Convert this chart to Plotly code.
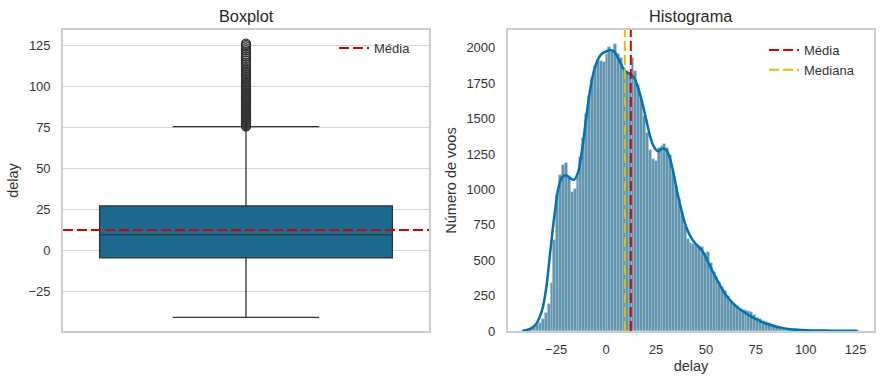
import plotly.graph_objects as go

# ---------------- data ----------------
# Boxplot statistics of "delay"
q1_delay = -4.7
median_delay = 9.4
q3_delay = 27.0
lower_whisker = -40.9
upper_whisker = 75.4
mean_delay = 12.4

# Outliers above the upper whisker (dense column of points)
outliers = [75.6, 76.2, 76.9, 77.5, 78.1, 78.8, 79.4, 80.0, 80.7, 81.3, 82.0, 82.6,
            83.3, 84.0, 84.6, 85.3, 86.0, 86.7, 87.4, 88.1, 88.8, 89.5, 90.2, 91.0,
            91.7, 92.4, 93.2, 94.0, 94.8, 95.5, 96.3, 97.1, 98.0, 98.8, 99.6, 100.5,
            101.4, 102.3, 103.2, 104.1, 105.0, 106.0, 107.0, 108.0, 109.0, 110.0,
            111.1, 112.2, 113.3, 114.5, 115.7, 117.0, 118.3, 119.5, 120.8, 122.0,
            123.2, 124.3, 125.2, 126.0]

# Histogram (bin start, bin width, counts per bin)
bin_start = -41.0
bin_width = 1.45
counts = [3, 8, 15, 25, 40, 60, 85, 125, 190, 340,
          640, 960, 1100, 1170, 1185, 1095, 985, 1000, 1085, 1230,
          1360, 1530, 1660, 1790, 1870, 1915, 1910, 1900, 1960, 2005,
          1985, 2025, 1960, 1930, 1850, 1840, 1820, 1925, 1840, 1740,
          1640, 1520, 1400, 1280, 1215, 1200, 1290, 1305, 1320, 1290,
          1245, 1120, 1020, 930, 840, 740, 650, 625, 615, 610,
          600, 590, 550, 560, 480, 420, 380, 345, 310, 280,
          245, 205, 190, 175, 155, 150, 145, 140, 132, 110,
          95, 82, 72, 62, 55, 48, 40, 34, 29, 24,
          20, 16, 13, 11, 9, 8, 7, 6, 5, 5,
          4, 4, 3, 3, 3, 3, 2, 2, 2, 2,
          2, 2, 1, 1, 1, 1]

# KDE curve (in count units)
kde_x = [-42, -38, -35, -32, -30, -28, -26, -24, -22, -20, -18, -16, -14, -12, -10,
         -8, -6, -4, -2, 0, 2, 4, 6, 8, 10, 12, 14, 16, 18, 20, 22, 24, 26, 28, 30,
         32, 34, 36, 38, 40, 42, 44, 46, 48, 50, 52, 54, 56, 58, 60, 62, 64, 66, 68,
         70, 72, 74, 76, 78, 80, 84, 88, 92, 96, 100, 110, 120, 126]
kde_y = [0, 15, 50, 150, 300, 550, 800, 1000, 1085, 1100, 1080, 1068, 1120, 1280, 1500,
         1700, 1840, 1920, 1960, 1975, 1985, 1975, 1930, 1870, 1830, 1815, 1790, 1720,
         1620, 1500, 1380, 1300, 1270, 1288, 1280, 1220, 1100, 960, 840, 740, 675, 630,
         600, 570, 520, 460, 405, 350, 300, 255, 220, 190, 165, 145, 125, 108, 92, 78,
         65, 53, 35, 22, 13, 8, 5, 3, 2, 1]

delay_ticks = [-25, 0, 25, 50, 75, 100, 125]
count_ticks = [0, 250, 500, 750, 1000, 1250, 1500, 1750, 2000]

# ---------------- styling ----------------
FONT = "Liberation Sans, Arial, sans-serif"
TXT = "#333333"
BORDER = "#cccccc"
BOX_FILL = "#1b6a90"
BOX_LINE = "#333333"
BAR_FILL = "#5f95b0"
KDE_COLOR = "#0173b2"
RED = "#d20000"
YELLOW = "#dcc000"
DASH = "10px,4px"


def fmt(v):
    return ("\u2212" + str(abs(v))) if v < 0 else str(v)


bin_centers = [bin_start + bin_width * (i + 0.5) for i in range(len(counts))]
all_vals = [lower_whisker] + outliers
span = max(all_vals) - min(all_vals)
val_range = [min(all_vals) - 0.05 * span, max(all_vals) + 0.05 * span]
count_top = max(counts) * 1.05

fig = go.Figure()

# ---- left: boxplot ----
fig.add_trace(go.Box(
    x=[0], q1=[q1_delay], median=[median_delay], q3=[q3_delay],
    lowerfence=[lower_whisker], upperfence=[upper_whisker],
    width=0.8, whiskerwidth=0.5, boxpoints=False,
    fillcolor=BOX_FILL, line=dict(color=BOX_LINE, width=1.3),
    showlegend=False, xaxis="x", yaxis="y", hoverinfo="skip"))
fig.add_trace(go.Scatter(
    x=[0] * len(outliers), y=outliers, mode="markers",
    marker=dict(symbol="circle-open", size=9, color=BOX_LINE, line=dict(width=1.3)),
    showlegend=False, xaxis="x", yaxis="y", hoverinfo="skip"))
fig.add_trace(go.Scatter(
    x=[-0.5, 0.5], y=[mean_delay, mean_delay], mode="lines",
    line=dict(color=RED, width=2, dash=DASH), name="Média",
    legend="legend", xaxis="x", yaxis="y"))

# ---- right: histogram ----
fig.add_trace(go.Bar(
    x=bin_centers, y=counts, width=bin_width,
    marker=dict(color=BAR_FILL, line=dict(color="rgba(175,195,205,0.9)", width=0.5)),
    showlegend=False, xaxis="x2", yaxis="y2", hoverinfo="skip"))
fig.add_trace(go.Scatter(
    x=kde_x, y=kde_y, mode="lines", line=dict(color=KDE_COLOR, width=2.5, shape="spline"),
    showlegend=False, xaxis="x2", yaxis="y2", hoverinfo="skip"))
fig.add_trace(go.Scatter(
    x=[mean_delay, mean_delay], y=[0, count_top], mode="lines",
    line=dict(color=RED, width=2, dash=DASH), name="Média",
    legend="legend2", xaxis="x2", yaxis="y2"))
fig.add_trace(go.Scatter(
    x=[median_delay, median_delay], y=[0, count_top], mode="lines",
    line=dict(color=YELLOW, width=2, dash=DASH), name="Mediana",
    legend="legend2", xaxis="x2", yaxis="y2"))

ydom = [53 / 384, 354 / 384]
axis_common = dict(showline=True, mirror=True, linecolor=BORDER, linewidth=1.6,
                   zeroline=False, ticks="", automargin=False,
                   tickfont=dict(size=13, color=TXT, family=FONT))

fig.update_layout(
    width=884, height=384,
    margin=dict(l=0, r=0, t=0, b=0, autoexpand=False),
    paper_bgcolor="white", plot_bgcolor="white",
    font=dict(family=FONT, color=TXT, size=13),
    bargap=0,
    xaxis=dict(domain=[63 / 884, 429 / 884], range=[-0.5, 0.5], showticklabels=False,
               showgrid=False, anchor="y", **axis_common),
    yaxis=dict(domain=ydom, range=val_range, anchor="x", showgrid=True, gridcolor="#d4d4d4",
               gridwidth=1, tickvals=delay_ticks, ticktext=[fmt(v) for v in delay_ticks],
               ticklabelstandoff=8,
               title=dict(text="delay", font=dict(size=14.5, color=TXT), standoff=6),
               **axis_common),
    xaxis2=dict(domain=[507.7 / 884, 874.3 / 884], range=val_range, anchor="y2",
                showgrid=False, tickvals=delay_ticks, ticktext=[fmt(v) for v in delay_ticks],
                ticklabelstandoff=6,
                title=dict(text="delay", font=dict(size=14.5, color=TXT), standoff=4),
                **axis_common),
    yaxis2=dict(domain=ydom, range=[0, count_top], anchor="x2", showgrid=False,
                tickvals=count_ticks, ticktext=[str(v) for v in count_ticks],
                ticklabelstandoff=8,
                title=dict(text="Número de voos", font=dict(size=14.5, color=TXT), standoff=6),
                **axis_common),
    legend=dict(x=334 / 884, y=1 - 33 / 384, xanchor="left", yanchor="top",
                bgcolor="rgba(0,0,0,0)", font=dict(size=13, color=TXT)),
    legend2=dict(x=764 / 884, y=1 - 35 / 384, xanchor="left", yanchor="top",
                 bgcolor="rgba(0,0,0,0)", font=dict(size=13, color=TXT)),
    annotations=[
        dict(text="Boxplot", x=246 / 884, y=1 - 16 / 384, xref="paper", yref="paper",
             xanchor="center", yanchor="middle",
             showarrow=False, font=dict(size=16.3, color="#262626")),
        dict(text="Histograma", x=691 / 884, y=1 - 16 / 384, xref="paper", yref="paper",
             xanchor="center", yanchor="middle",
             showarrow=False, font=dict(size=16.3, color="#262626")),
    ],
)

fig.write_html("out.html", config={"displayModeBar": False},
               post_script="document.body.style.margin='0';")
